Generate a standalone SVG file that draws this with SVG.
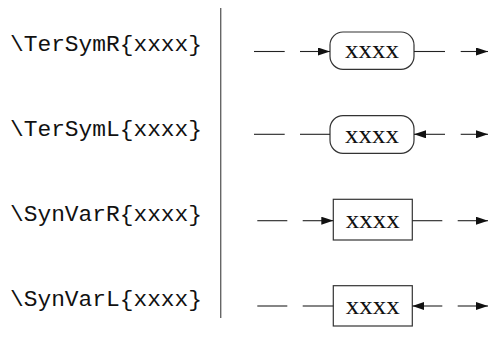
<svg xmlns="http://www.w3.org/2000/svg" width="489" height="345" viewBox="0 0 489 345">
<style>
.lbl{font-family:"Liberation Mono","DejaVu Sans Mono",monospace;font-size:22.8px;fill:#111;}
.nt{font-family:"Liberation Serif","DejaVu Serif",serif;font-size:26px;fill:#111;text-anchor:middle;}
.ln{stroke:#222;stroke-width:1.1;fill:none;}
.box{stroke:#333;stroke-width:1.2;fill:#fff;}
.sep{stroke:#666;stroke-width:1.4;}
</style>
<defs>
<marker id="ah" viewBox="0 0 12 8" refX="12" refY="4" markerWidth="12" markerHeight="8" markerUnits="userSpaceOnUse" orient="auto">
<path d="M0,0 L12,4 L0,8 Z" fill="#111"/>
</marker>
</defs>
<g id="labels">
<text class="lbl" x="10" y="51" textLength="192" lengthAdjust="spacingAndGlyphs">\TerSymR{xxxx}</text>
<text class="lbl" x="10" y="136" textLength="192" lengthAdjust="spacingAndGlyphs">\TerSymL{xxxx}</text>
<text class="lbl" x="10" y="221" textLength="192" lengthAdjust="spacingAndGlyphs">\SynVarR{xxxx}</text>
<text class="lbl" x="10" y="306" textLength="192" lengthAdjust="spacingAndGlyphs">\SynVarL{xxxx}</text>
</g>
<line id="separator" class="sep" x1="220.7" y1="8" x2="220.7" y2="318"/>
<g id="n1">
<rect class="box" x="330" y="32" width="84" height="37.3" rx="13"/>
<text class="nt" x="372" y="58.3" textLength="54" lengthAdjust="spacingAndGlyphs">xxxx</text>
</g>
<g id="n2">
<rect class="box" x="330" y="115.7" width="84" height="37.6" rx="13"/>
<text class="nt" x="372" y="143.3" textLength="54" lengthAdjust="spacingAndGlyphs">xxxx</text>
</g>
<g id="n3">
<rect class="box" x="333.3" y="199.3" width="79" height="40.7"/>
<text class="nt" x="372.8" y="227.7" textLength="54" lengthAdjust="spacingAndGlyphs">xxxx</text>
</g>
<g id="n4">
<rect class="box" x="333.3" y="285.7" width="79" height="40.3"/>
<text class="nt" x="372.8" y="314.3" textLength="54" lengthAdjust="spacingAndGlyphs">xxxx</text>
</g>
<g id="connectors">
<line class="ln" x1="254" y1="51.5" x2="284.7" y2="51.5"/>
<line class="ln" x1="300" y1="51.5" x2="330" y2="51.5" marker-end="url(#ah)"/>
<line class="ln" x1="414" y1="51.5" x2="445" y2="51.5"/>
<line class="ln" x1="460.7" y1="51.5" x2="488" y2="51.5" marker-end="url(#ah)"/>

<line class="ln" x1="254" y1="134.3" x2="284.7" y2="134.3"/>
<line class="ln" x1="300" y1="134.3" x2="330" y2="134.3"/>
<line class="ln" x1="445" y1="134.3" x2="414" y2="134.3" marker-end="url(#ah)"/>
<line class="ln" x1="460.7" y1="134.3" x2="488" y2="134.3" marker-end="url(#ah)"/>

<line class="ln" x1="257.3" y1="220.7" x2="287.3" y2="220.7"/>
<line class="ln" x1="302.7" y1="220.7" x2="333.3" y2="220.7" marker-end="url(#ah)"/>
<line class="ln" x1="412.3" y1="220.7" x2="442.3" y2="220.7"/>
<line class="ln" x1="457.7" y1="220.7" x2="488" y2="220.7" marker-end="url(#ah)"/>

<line class="ln" x1="257.3" y1="306" x2="287.3" y2="306"/>
<line class="ln" x1="302.7" y1="306" x2="333.3" y2="306"/>
<line class="ln" x1="442.3" y1="306" x2="412.3" y2="306" marker-end="url(#ah)"/>
<line class="ln" x1="457.7" y1="306" x2="488" y2="306" marker-end="url(#ah)"/>
</g>
</svg>
